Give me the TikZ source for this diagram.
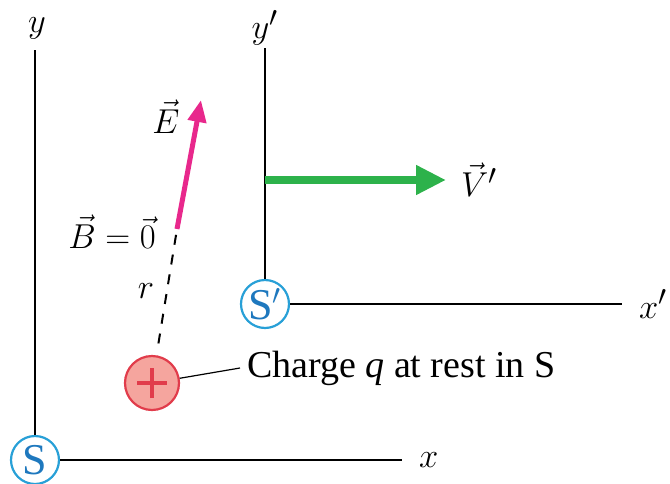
\documentclass[tikz,border=0pt]{standalone}
\usepackage{amsmath}
\usepackage{fontspec}
\setmainfont{Liberation Serif}
\usetikzlibrary{arrows.meta,positioning}

\definecolor{ringblue}{RGB}{40,160,215}
\definecolor{letterblue}{RGB}{30,120,190}
\definecolor{fieldpink}{RGB}{232,40,140}
\definecolor{velgreen}{RGB}{45,178,75}
\definecolor{chargefill}{RGB}{245,165,158}
\definecolor{chargered}{RGB}{225,60,75}

\begin{document}
\begin{tikzpicture}[
    x=0.5pt, y=-0.5pt,
    font=\fontsize{19}{23}\selectfont,
    line width=1pt,
    origin/.style={circle, draw=ringblue, fill=white, line width=1.1pt, text=letterblue, font=\fontsize{22}{26}\selectfont, minimum size=24pt, inner sep=0pt},
    charge/.style={circle, draw=chargered, fill=chargefill, line width=1.1pt, minimum size=27pt, inner sep=0pt},
    vel/.style={draw=velgreen, line width=4pt, -{Triangle[length=15pt, width=14pt]}},
    efield/.style={draw=fieldpink, line width=2.5pt, -{Triangle[length=11pt, width=9pt]}},
    rline/.style={line width=1pt, dash pattern=on 5pt off 5pt},
    leader/.style={line width=0.6pt}
]
\useasboundingbox (0,0) rectangle (670,483);

% frame S
\node[origin] (S) at (35,460) {S};
\coordinate (ytop) at (35,50);
\coordinate (xend) at (402,460);
\draw (S) -- (ytop);
\draw (S) -- (xend);
\node (ylab) at (37,28) {$y$};
\node[right=8pt of xend, inner sep=0pt] (xlab) {$x$};

% frame S'
\node[origin] (Sp) at (265,304) {S$'$};
\coordinate (yptop) at (265,48);
\coordinate (xpend) at (622,304);
\draw (Sp) -- (yptop);
\draw (Sp) -- (xpend);
\node (yplab) at (265,28) {$y'$};
\node[right=8pt of xpend, inner sep=0pt] (xplab) {$x'$};

% velocity of S'
\coordinate (vstart) at (265,180);
\coordinate (vend) at (446,180);
\draw[vel] (vstart) -- (vend);
\node[right=7pt of vend, inner sep=0pt] (vlab) {$\vec{V}'$};

% charge and its field
\node[charge] (q) at (152,383) {};
\draw[chargered, line width=2.4pt] ([xshift=-7.5pt]q.center) -- ([xshift=7.5pt]q.center);
\draw[chargered, line width=2.4pt] ([yshift=-7.5pt]q.center) -- ([yshift=7.5pt]q.center);
\coordinate (fieldpt) at (177,229);
\coordinate (etip) at (201,100);
\draw[rline, shorten <=6pt] (q) -- (fieldpt);
\draw[efield] (fieldpt) -- (etip);
\node (elab) at (166,117) {$\vec{E}$};
\node (blab) at (112,232) {$\vec{B} = \vec{0}$};
\node (rlab) at (146,291) {$r$};

% caption of the charge
\coordinate (lead) at (240,368);
\draw[leader] (q) -- (lead);
\node[right=3pt of lead, inner sep=0pt] (qlab) {Charge \textit{q} at rest in S};
\end{tikzpicture}
\end{document}
